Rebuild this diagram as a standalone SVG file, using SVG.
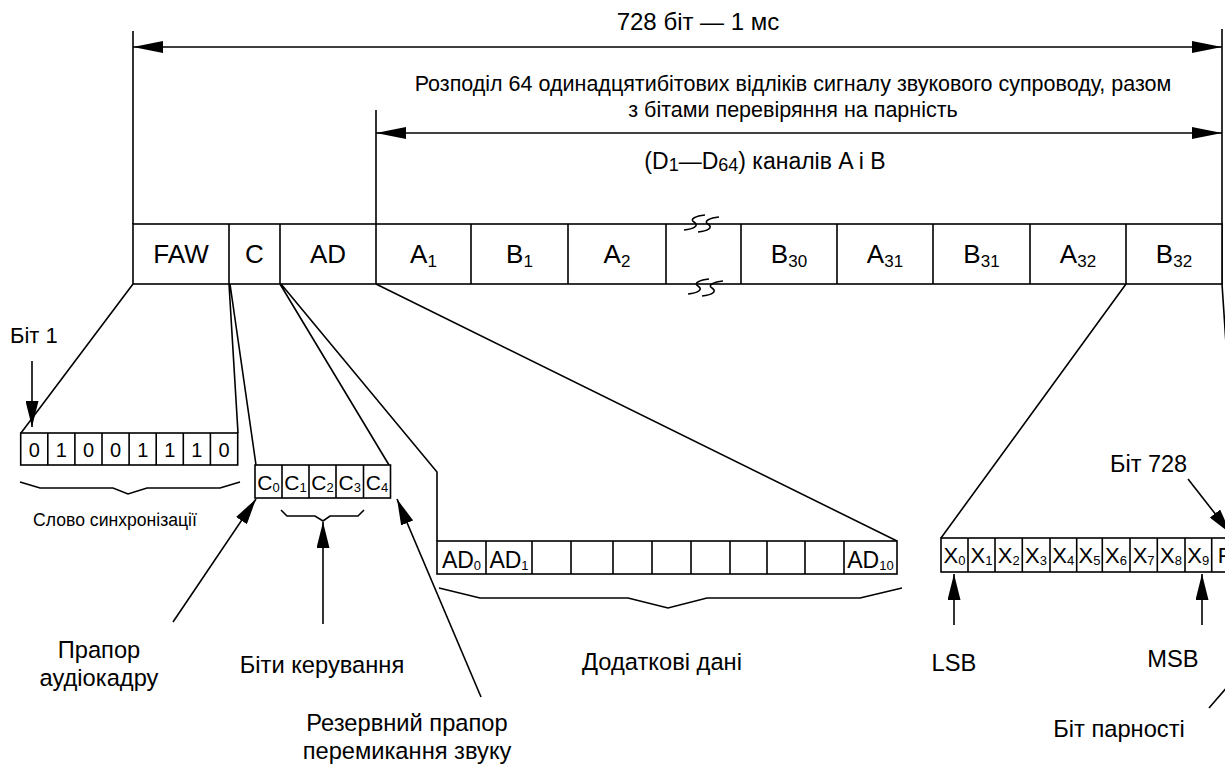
<svg xmlns="http://www.w3.org/2000/svg" width="1225" height="767" viewBox="0 0 1225 767">
<defs>
<style>
.ln{fill:none;stroke:#000;stroke-width:1.6}
.cell{fill:#fff;stroke:#000;stroke-width:1.6}
text{font-family:"Liberation Sans",Arial,sans-serif;fill:#000}
.big{font-size:26px;text-anchor:middle}
.lbl{font-size:23.7px;text-anchor:middle}
.hdr{font-size:21.5px;text-anchor:middle}
.bit{font-size:20px;text-anchor:middle}
.sb{font-size:17px}
.ss{font-size:13px}
</style>
<marker id="ahb" markerUnits="userSpaceOnUse" markerWidth="30" markerHeight="12" refX="30" refY="6" orient="auto-start-reverse"><path d="M0,0 L30,6 L0,12 Z" fill="#000"/></marker>
<marker id="ahs" markerUnits="userSpaceOnUse" markerWidth="26" markerHeight="13" refX="26" refY="6.5" orient="auto"><path d="M0,0 L26,6.5 L0,13 Z" fill="#000"/></marker>
</defs>
<rect width="1225" height="767" fill="#fff"/>

<g id="dimensions">
<path class="ln" d="M133,31 V224 M376,110 V224 M1222,29 V284"/>
<line class="ln" x1="133" y1="47" x2="1222" y2="47" marker-start="url(#ahb)" marker-end="url(#ahb)"/>
<line class="ln" x1="376" y1="133" x2="1222" y2="133" marker-start="url(#ahb)" marker-end="url(#ahb)"/>
<text style="font-size:24px;text-anchor:middle" x="698" y="30">728 біт — 1 мс</text>
<text class="hdr" x="793" y="91">Розподіл 64 одинадцятибітових відліків сигналу звукового супроводу, разом</text>
<text class="hdr" x="793" y="117">з бітами перевіряння на парність</text>
<text style="font-size:23px;text-anchor:middle" x="765" y="169">(D<tspan style="font-size:18px" dy="2">1</tspan><tspan dy="-2">—D</tspan><tspan style="font-size:18px" dy="2">64</tspan><tspan dy="-2">) каналів A і B</tspan></text>
</g>

<g id="frame">
<rect class="cell" x="133" y="224" width="1089" height="60"/>
<path class="ln" d="M229,224 V284 M280,224 V284 M376,224 V284 M471,224 V284 M568,224 V284 M666,224 V284 M741,224 V284 M837,224 V284 M933,224 V284 M1030,224 V284 M1126,224 V284"/>
<path class="ln" d="M684,230 C693,229 700,226 694,222 C689,219 696,216 705,215 M698,232 C707,231 714,228 708,224 C703,221 710,218 719,217"/>
<path class="ln" d="M688,294 C697,293 704,290 698,286 C693,283 700,280 709,279 M702,296 C711,295 718,292 712,288 C707,285 714,282 723,281"/>
<g id="cell-faw"><text class="big" x="181" y="263">FAW</text></g>
<g id="cell-c"><text class="big" x="254.5" y="263">C</text></g>
<g id="cell-ad"><text class="big" x="328" y="263">AD</text></g>
<g id="cell-a1"><text class="big" x="423.5" y="263">A<tspan class="sb" dy="4">1</tspan></text></g>
<g id="cell-b1"><text class="big" x="519.5" y="263">B<tspan class="sb" dy="4">1</tspan></text></g>
<g id="cell-a2"><text class="big" x="617" y="263">A<tspan class="sb" dy="4">2</tspan></text></g>
<g id="cell-b30"><text class="big" x="789" y="263">B<tspan class="sb" dy="4">30</tspan></text></g>
<g id="cell-a31"><text class="big" x="885" y="263">A<tspan class="sb" dy="4">31</tspan></text></g>
<g id="cell-b31"><text class="big" x="981.5" y="263">B<tspan class="sb" dy="4">31</tspan></text></g>
<g id="cell-a32"><text class="big" x="1078" y="263">A<tspan class="sb" dy="4">32</tspan></text></g>
<g id="cell-b32"><text class="big" x="1174" y="263">B<tspan class="sb" dy="4">32</tspan></text></g>
</g>

<g id="connectors">
<path class="ln" d="M133,284 L21,433 M229,284 L238,433 M230,284 L256,465 M280,284 L389,465 M281,284 L437,472 V541 M376,284 L897,541 M1126,284 L941,538 M1222,284 L1239,538"/>
<path class="ln" d="M20,482 L40,488 L113,488 L128,494 L147,488 L220,488 L240,482"/>
<path class="ln" d="M281,510 L287,516 L315,516 L323,521 L330,516 L358,516 L364,510"/>
<path class="ln" d="M439,588 L480,598 L628,598 L668,608 L707,598 L860,598 L902,588"/>
<line class="ln" x1="32" y1="361" x2="32" y2="427" marker-end="url(#ahs)"/>
<line class="ln" x1="173" y1="622" x2="256" y2="499" marker-end="url(#ahs)"/>
<line class="ln" x1="323" y1="624" x2="323" y2="522" marker-end="url(#ahs)"/>
<line class="ln" x1="481" y1="697" x2="397" y2="499" marker-end="url(#ahs)"/>
<line class="ln" x1="954" y1="625" x2="954" y2="574" marker-end="url(#ahs)"/>
<line class="ln" x1="1202" y1="625" x2="1202" y2="574" marker-end="url(#ahs)"/>
<line class="ln" x1="1188" y1="479" x2="1231" y2="534" marker-end="url(#ahs)"/>
<polyline class="ln" points="1209,708 1240,672 1228,575" marker-end="url(#ahs)"/>
</g>

<g id="faw-bits">
<rect class="cell" x="20.7" y="433" width="217" height="32"/>
<path class="ln" d="M47.8,433 V465 M74.9,433 V465 M102,433 V465 M129.1,433 V465 M156.2,433 V465 M183.3,433 V465 M210.4,433 V465"/>
<text class="bit" x="34.3" y="457">0</text>
<text class="bit" x="61.4" y="457">1</text>
<text class="bit" x="88.5" y="457">0</text>
<text class="bit" x="115.6" y="457">0</text>
<text class="bit" x="142.7" y="457">1</text>
<text class="bit" x="169.8" y="457">1</text>
<text class="bit" x="196.9" y="457">1</text>
<text class="bit" x="224" y="457">0</text>
</g>

<g id="c-bits">
<rect class="cell" x="255" y="465" width="135.5" height="33"/>
<path class="ln" d="M282,465 V498 M309,465 V498 M336,465 V498 M363.5,465 V498"/>
<g style="font-size:21px;text-anchor:middle">
<text x="268.5" y="490">C<tspan class="ss" dy="2">0</tspan></text>
<text x="295.5" y="490">C<tspan class="ss" dy="2">1</tspan></text>
<text x="322.5" y="490">C<tspan class="ss" dy="2">2</tspan></text>
<text x="349.8" y="490">C<tspan class="ss" dy="2">3</tspan></text>
<text x="377" y="490">C<tspan class="ss" dy="2">4</tspan></text>
</g>
</g>

<g id="ad-bits">
<rect class="cell" x="437" y="541" width="460" height="33"/>
<path class="ln" d="M486,541 V574 M532,541 V574 M571,541 V574 M613,541 V574 M652,541 V574 M691,541 V574 M730,541 V574 M767,541 V574 M805,541 V574 M844,541 V574"/>
<g style="font-size:23px;text-anchor:middle">
<text x="461.5" y="568">AD<tspan class="ss" dy="2">0</tspan></text>
<text x="509" y="568">AD<tspan class="ss" dy="2">1</tspan></text>
<text x="870.5" y="568">AD<tspan class="ss" dy="2">10</tspan></text>
</g>
</g>

<g id="x-bits">
<rect class="cell" x="941" y="538" width="298" height="34"/>
<path class="ln" d="M968,538 V572 M995,538 V572 M1022.3,538 V572 M1050,538 V572 M1076.7,538 V572 M1102.3,538 V572 M1130,538 V572 M1157.3,538 V572 M1185,538 V572 M1211.7,538 V572"/>
<g style="font-size:22px;text-anchor:middle">
<text x="954.5" y="563">X<tspan class="ss" dy="2">0</tspan></text>
<text x="981.5" y="563">X<tspan class="ss" dy="2">1</tspan></text>
<text x="1008.7" y="563">X<tspan class="ss" dy="2">2</tspan></text>
<text x="1036" y="563">X<tspan class="ss" dy="2">3</tspan></text>
<text x="1063.3" y="563">X<tspan class="ss" dy="2">4</tspan></text>
<text x="1089.5" y="563">X<tspan class="ss" dy="2">5</tspan></text>
<text x="1116" y="563">X<tspan class="ss" dy="2">6</tspan></text>
<text x="1143.6" y="563">X<tspan class="ss" dy="2">7</tspan></text>
<text x="1171" y="563">X<tspan class="ss" dy="2">8</tspan></text>
<text x="1198.3" y="563">X<tspan class="ss" dy="2">9</tspan></text>
<text x="1225" y="563">P</text>
</g>
</g>

<g id="labels">
<text style="font-size:22px" x="10" y="343">Біт 1</text>
<text style="font-size:17.6px;text-anchor:middle" x="115" y="526">Слово синхронізації</text>
<text class="lbl" x="99" y="658">Прапор</text>
<text class="lbl" x="99" y="686">аудіокадру</text>
<text class="lbl" x="322" y="673">Біти керування</text>
<text class="lbl" x="407" y="731">Резервний прапор</text>
<text class="lbl" x="407" y="759">перемикання звуку</text>
<text class="lbl" x="662" y="670">Додаткові дані</text>
<text class="lbl" x="954" y="671">LSB</text>
<text class="lbl" x="1173" y="667">MSB</text>
<text style="font-size:23.5px" x="1110" y="472">Біт 728</text>
<text class="lbl" x="1119" y="737">Біт парності</text>
</g>
</svg>
